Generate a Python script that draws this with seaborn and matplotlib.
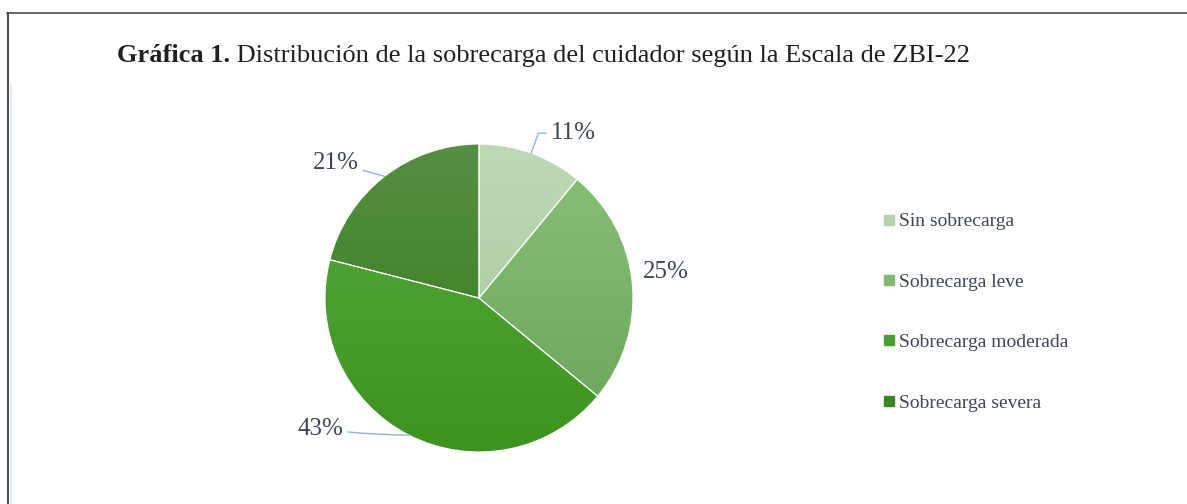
import numpy as np
import matplotlib
matplotlib.use("Agg")
import matplotlib.pyplot as plt
from matplotlib.colors import LinearSegmentedColormap
from matplotlib.lines import Line2D
import seaborn as sns

# datos
categorias = ["Sin sobrecarga", "Sobrecarga leve", "Sobrecarga moderada", "Sobrecarga severa"]
porcentajes = [11, 25, 43, 21]
etiquetas = ["11%", "25%", "43%", "21%"]

# colores (arriba, abajo) de cada porcion para el degradado
colores_arriba = ["#bddab5", "#88c278", "#58aa40", "#578f42"]
colores_abajo = ["#a3c498", "#68a458", "#3d931e", "#2e7a16"]
colores_leyenda = ["#b4d3aa", "#7fba6e", "#4aa22e", "#3c8524"]

# posicion de los textos en radios del pastel y estilo de la linea guia
pos_texto = [(0.61, 1.07), (1.21, 0.17), (-1.03, -0.85), (-0.93, 0.877)]
lineas = ["angle,angleA=0,angleB=70,rad=0", None, "arc3,rad=0.03", "arc3,rad=0"]

sns.set_style("white")
plt.rcParams["font.family"] = ["Liberation Serif", "DejaVu Serif"]

W, H = 1187, 504
fig = plt.figure(figsize=(W / 100, H / 100), dpi=100)

# marco de la figura
fig.add_artist(Line2D([7 / W, 1], [1 - 13 / H, 1 - 13 / H], transform=fig.transFigure,
                      color="#5a5a5a", lw=1.3))
fig.add_artist(Line2D([8 / W, 8 / W], [0, 1 - 13 / H], transform=fig.transFigure,
                      color="#3a3a3a", lw=1.3))
fig.add_artist(Line2D([10.5 / W, 10.5 / W], [0, 1 - 85 / H], transform=fig.transFigure,
                      color="#dbe8f6", lw=1.2))

# titulo
t1 = fig.text(117 / W, 1 - 62 / H, "Gráfica 1.", fontsize=19, fontweight="bold",
              color="#231f20", va="baseline")
ax_tmp = fig.add_axes([0, 0, 1, 1])
ax_tmp.axis("off")
ax_tmp.annotate(" Distribución de la sobrecarga del cuidador según la Escala de ZBI-22",
                xy=(1, 0), xycoords=t1, va="bottom", ha="left", fontsize=19,
                color="#231f20")

# pastel
cx, cy, r = 479, 298, 154
ax = fig.add_axes([(cx - r) / W, (H - cy - r) / H, 2 * r / W, 2 * r / H])
wedges, _ = ax.pie(porcentajes, startangle=90, counterclock=False, radius=1,
                   colors=colores_leyenda,
                   wedgeprops=dict(edgecolor="white", linewidth=0.8))
ax.set_xlim(-1, 1)
ax.set_ylim(-1, 1)

grad = np.linspace(1, 0, 256).reshape(-1, 1)
for w, c_top, c_bot in zip(wedges, colores_arriba, colores_abajo):
    cmap = LinearSegmentedColormap.from_list("g", [c_bot, c_top])
    im = ax.imshow(grad, cmap=cmap, extent=(-1, 1, -1, 1), aspect="auto",
                   origin="upper", zorder=w.get_zorder() + 0.1)
    im.set_clip_path(w)
    w.set_facecolor("none")
    w.set_zorder(w.get_zorder() + 0.2)

# etiquetas de porcentaje
for w, txt, (tx, ty), estilo in zip(wedges, etiquetas, pos_texto, lineas):
    ang = np.deg2rad((w.theta1 + w.theta2) / 2)
    x0, y0 = np.cos(ang), np.sin(ang)
    if estilo:
        ax.annotate(txt, xy=(x0, y0), xytext=(tx, ty), fontsize=18, color="#3d4756",
                    ha="center", va="center", annotation_clip=False,
                    arrowprops=dict(arrowstyle="-", color="#8db6df", lw=1.0,
                                    shrinkA=1, shrinkB=0, connectionstyle=estilo))
    else:
        ax.text(tx, ty, txt, fontsize=18, color="#3d4756", ha="center", va="center")
ax.axis("off")

# leyenda
handles = [Line2D([], [], marker="s", linestyle="none", markersize=7,
                  markerfacecolor=c, markeredgecolor=c) for c in colores_leyenda]
fig.legend(handles, categorias, loc="upper left", bbox_to_anchor=(875 / W, 1 - 205 / H),
           frameon=False, fontsize=14, labelspacing=2.2, handlelength=0.6,
           handletextpad=0.25, labelcolor="#3d4756", borderaxespad=0)

fig.savefig("out.png", dpi=100, facecolor="white")
